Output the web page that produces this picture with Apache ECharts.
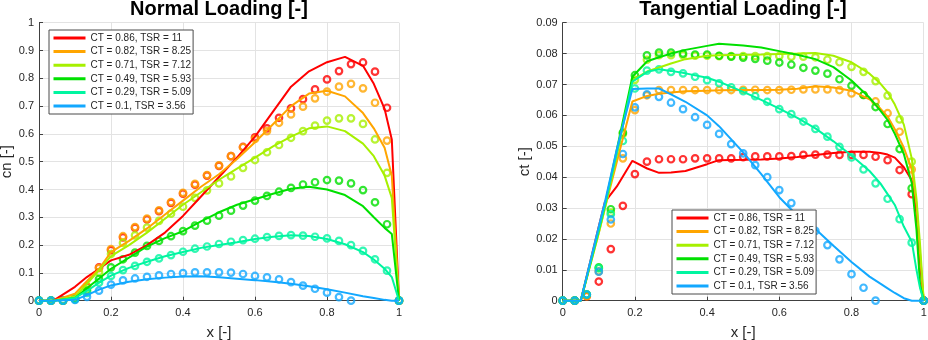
<!DOCTYPE html>
<html><head><meta charset="utf-8">
<script src="https://cdn.jsdelivr.net/npm/echarts@6/dist/echarts.min.js"></script>
<style>html,body{margin:0;padding:0;background:#fff}#c{width:928px;height:340px}</style>
</head><body><div id="c"></div>
<script>
// ---------- data ----------
const seriesNames = ['CT = 0.86, TSR = 11','CT = 0.82, TSR = 8.25','CT = 0.71, TSR = 7.12','CT = 0.49, TSR = 5.93','CT = 0.29, TSR = 5.09','CT = 0.1, TSR = 3.56'];
const seriesColors = ['#FF0000','#FFA500','#A6F000','#00E000','#00F5A0','#12A8FF'];

const xTicks = [0, 0.2, 0.4, 0.6, 0.8, 1];
const cnTicks = [0,0.1,0.2,0.3,0.4,0.5,0.6,0.7,0.8,0.9,1];
const ctTicks = [0,0.01,0.02,0.03,0.04,0.05,0.06,0.07,0.08,0.09];

// measured points (circles)
const xPts = [0,0.0333,0.0667,0.1,0.1333,0.1667,0.2,0.2333,0.2667,0.3,0.3333,0.3667,0.4,0.4333,0.4667,0.5,0.5333,0.5667,0.6,0.6333,0.6667,0.7,0.7333,0.7667,0.8,0.8333,0.8667,0.9,0.9333,0.9667,1];

const cnRedPts    = [0,0,0,0.008,0.05,0.12,0.182,0.228,0.262,0.292,0.322,0.352,0.385,0.417,0.45,0.485,0.52,0.553,0.588,0.62,0.658,0.692,0.725,0.76,0.796,0.826,0.851,0.857,0.824,0.694,0];
const cnOrangePts = [0,0,0,0.01,0.052,0.117,0.186,0.232,0.265,0.295,0.325,0.355,0.388,0.42,0.452,0.487,0.52,0.552,0.582,0.61,0.64,0.67,0.698,0.728,0.752,0.77,0.78,0.764,0.712,0.576,0];
const cnLimePts   = [0,0,0,0.01,0.04,0.102,0.168,0.208,0.235,0.263,0.287,0.313,0.338,0.37,0.397,0.422,0.447,0.478,0.506,0.534,0.56,0.586,0.61,0.63,0.648,0.656,0.656,0.636,0.58,0.46,0];
const cnGreenPts  = [0,0,0,0.006,0.035,0.078,0.12,0.149,0.173,0.197,0.215,0.232,0.25,0.27,0.288,0.306,0.324,0.342,0.36,0.377,0.392,0.406,0.418,0.426,0.434,0.432,0.422,0.398,0.354,0.275,0];
const cnCyanPts   = [0,0,0,0.005,0.028,0.065,0.089,0.11,0.125,0.14,0.152,0.164,0.176,0.187,0.195,0.204,0.212,0.218,0.223,0.229,0.233,0.236,0.234,0.23,0.224,0.215,0.2,0.179,0.149,0.108,0];
const cnBluePts   = [0,0,0,0.003,0.014,0.036,0.058,0.073,0.08,0.086,0.091,0.096,0.099,0.102,0.102,0.102,0.101,0.096,0.089,0.084,0.077,0.067,0.054,0.043,0.029,0.013,0,null,null,null,0];

const ctRedPts    = [0,0,0.0015,0.0062,0.0167,0.0307,0.041,0.045,0.0458,0.0458,0.0458,0.0461,0.0461,0.0461,0.0461,0.0465,0.0467,0.0467,0.0467,0.0468,0.0472,0.0473,0.0473,0.0472,0.0472,0.0472,0.0466,0.0455,0.0423,0.0345,0];
const ctOrangePts = [0,0,0.0015,0.0095,0.025,0.0461,0.0617,0.0665,0.0682,0.0682,0.0682,0.0682,0.0682,0.0682,0.0682,0.0683,0.0683,0.0682,0.0682,0.0683,0.0684,0.0684,0.0684,0.0682,0.0671,0.0666,0.0645,0.0607,0.0547,0.0425,0];
const ctLimePts   = [0,0,0.002,0.0105,0.0285,0.054,0.0715,0.078,0.0795,0.0795,0.0795,0.0793,0.0793,0.0792,0.0792,0.0792,0.0792,0.0792,0.0792,0.079,0.079,0.0788,0.078,0.0772,0.0757,0.0741,0.0711,0.0664,0.0587,0.045,0];
const ctGreenPts  = [0,0,0.002,0.0108,0.0296,0.0544,0.073,0.0794,0.0803,0.0803,0.08,0.0797,0.0797,0.0793,0.079,0.0787,0.0783,0.0777,0.0771,0.0764,0.0754,0.0745,0.0735,0.0717,0.0696,0.0666,0.0627,0.0572,0.0491,0.0364,0];
const ctCyanPts   = [0,0,0.002,0.0105,0.028,0.0517,0.0687,0.0745,0.0749,0.0741,0.0736,0.0725,0.0714,0.0704,0.0691,0.0678,0.0662,0.0644,0.062,0.0604,0.058,0.0556,0.0531,0.0498,0.0464,0.0425,0.038,0.033,0.0264,0.0188,0];
const ctBluePts   = [0,0,0.002,0.0094,0.0263,0.0475,0.0626,0.0668,0.066,0.0641,0.062,0.0594,0.0569,0.054,0.0507,0.0477,0.0439,0.04,0.0358,0.0316,0.0272,0.0226,0.018,0.0134,0.0086,0.0042,0,null,null,null,0];

// simulated curves (lines)
const cnLineX = [0,0.04,0.1,0.133,0.167,0.2,0.25,0.3,0.35,0.4,0.45,0.5,0.55,0.6,0.65,0.7,0.75,0.8,0.85,0.9,0.93,0.96,0.98,1];
const cnRedLine    = [0,0,0.05,0.085,0.115,0.145,0.165,0.2,0.245,0.305,0.375,0.445,0.515,0.59,0.68,0.77,0.825,0.858,0.877,0.845,0.78,0.69,0.58,0];
const cnOrangeLine = [0,0,0.025,0.07,0.115,0.175,0.215,0.26,0.31,0.36,0.41,0.455,0.51,0.57,0.635,0.7,0.745,0.755,0.735,0.675,0.62,0.55,0.45,0];
const cnLimeLine   = [0,0,0.015,0.06,0.11,0.16,0.2,0.245,0.295,0.345,0.39,0.435,0.475,0.515,0.555,0.59,0.62,0.627,0.61,0.565,0.52,0.45,0.37,0];
const cnGreenLine  = [0,0,0.01,0.045,0.08,0.115,0.155,0.195,0.225,0.25,0.285,0.318,0.345,0.365,0.385,0.403,0.41,0.4,0.38,0.34,0.3,0.262,0.24,0];
const cnCyanLine   = [0,0,0.01,0.035,0.065,0.09,0.118,0.14,0.16,0.175,0.19,0.2,0.21,0.222,0.23,0.235,0.233,0.222,0.203,0.175,0.148,0.115,0.085,0];
const cnBlueLine   = [0,0,0.003,0.02,0.04,0.055,0.068,0.077,0.083,0.087,0.088,0.084,0.079,0.074,0.068,0.061,0.052,0.041,0.029,0.016,0.01,0.003,0,0];

const ctLineX = [0,0.05,0.1,0.117,0.15,0.193,0.234,0.267,0.3,0.34,0.4,0.433,0.5,0.55,0.6,0.65,0.7,0.75,0.8,0.85,0.88,0.9,0.92,0.945,0.967,0.98,0.99,1];
const ctRedLine    = [0,0,0.024,0.032,0.037,0.0453,0.0428,0.0414,0.0415,0.042,0.0442,0.0455,0.0456,0.0457,0.046,0.0465,0.0472,0.0478,0.0482,0.0482,0.0478,0.0473,0.0463,0.0432,0.039,0.028,0.012,0];
const ctOrangeLine = [0,0,0.022,0.03,0.045,0.0645,0.0663,0.067,0.0674,0.0678,0.068,0.0681,0.0682,0.0682,0.0683,0.0686,0.0694,0.069,0.068,0.0652,0.0622,0.0596,0.0555,0.0495,0.0425,0.0314,0.015,0];
const ctLimeLine   = [0,0,0.022,0.03,0.047,0.0714,0.0742,0.0755,0.0768,0.0782,0.0793,0.0795,0.0796,0.0797,0.0799,0.08,0.0802,0.0793,0.0772,0.0735,0.0703,0.0675,0.0635,0.057,0.046,0.033,0.018,0];
const ctGreenLine  = [0,0,0.023,0.031,0.049,0.0725,0.0775,0.0788,0.08,0.0812,0.0825,0.0832,0.0826,0.082,0.0808,0.0796,0.0782,0.0756,0.0713,0.0657,0.0615,0.0585,0.054,0.0475,0.038,0.023,0.005,0];
const ctCyanLine   = [0,0,0.023,0.031,0.048,0.0709,0.0741,0.0749,0.0744,0.0736,0.0722,0.0709,0.0676,0.065,0.0622,0.0592,0.0558,0.0516,0.047,0.042,0.038,0.0345,0.031,0.024,0.0191,0.01,0.004,0];
const ctBlueLine   = [0,0,0.024,0.032,0.049,0.0685,0.0687,0.0687,0.0668,0.0644,0.06,0.0565,0.048,0.041,0.0335,0.0275,0.0232,0.0178,0.0125,0.0078,0.0055,0.004,0.0025,0.0008,0,0,0,0];

// ---------- build ----------
const FONT = '"Liberation Sans", Arial, Helvetica, sans-serif';
const AX = '#404040', TXT = '#262626', GRIDC = '#E3E3E3';

const cnPts = [cnRedPts, cnOrangePts, cnLimePts, cnGreenPts, cnCyanPts, cnBluePts];
const ctPts = [ctRedPts, ctOrangePts, ctLimePts, ctGreenPts, ctCyanPts, ctBluePts];
const cnLines = [cnRedLine, cnOrangeLine, cnLimeLine, cnGreenLine, cnCyanLine, cnBlueLine];
const ctLines = [ctRedLine, ctOrangeLine, ctLimeLine, ctGreenLine, ctCyanLine, ctBlueLine];

function pairs(xs, ys) {
  const out = [];
  for (let i = 0; i < xs.length; i++) if (ys[i] !== null) out.push([xs[i], ys[i]]);
  return out;
}

function xAxisDef(gi) {
  return {
    type: 'value', gridIndex: gi, min: xTicks[0], max: xTicks[xTicks.length - 1], interval: xTicks[1] - xTicks[0],
    name: 'x [-]', nameLocation: 'middle', nameGap: 25,
    nameTextStyle: { fontSize: 15, color: TXT, fontFamily: FONT },
    axisLine: { show: true, onZero: false, lineStyle: { color: AX, width: 1 } },
    axisTick: { show: true, inside: true, length: 4, lineStyle: { color: AX } },
    axisLabel: { fontSize: 11, color: TXT, margin: 7, fontFamily: FONT },
    splitLine: { show: true, lineStyle: { color: GRIDC, width: 1 } }
  };
}
function yAxisDef(gi, ticks, name, gap) {
  return {
    type: 'value', gridIndex: gi, min: ticks[0], max: ticks[ticks.length - 1], interval: ticks[1] - ticks[0],
    name: name, nameLocation: 'middle', nameGap: gap, nameRotate: 90,
    nameTextStyle: { fontSize: 15, color: TXT, fontFamily: FONT },
    axisLine: { show: true, onZero: false, lineStyle: { color: AX, width: 1 } },
    axisTick: { show: true, inside: true, length: 4, lineStyle: { color: AX } },
    axisLabel: { fontSize: 11, color: TXT, margin: 5, fontFamily: FONT },
    splitLine: { show: true, lineStyle: { color: GRIDC, width: 1 } }
  };
}
function legendDef(left, top) {
  return {
    data: seriesNames, orient: 'vertical', left: left, top: top,
    itemWidth: 32, itemHeight: 11, itemGap: 3.6,
    padding: [3, 2, 3, 3],
    backgroundColor: '#fff', borderColor: '#4a4a4a', borderWidth: 1,
    lineStyle: { width: 3 },
    itemStyle: { opacity: 0 },
    textStyle: { fontSize: 10, color: TXT, fontFamily: FONT },
    selectedMode: false
  };
}

const series = [];
[[cnLineX, cnLines, cnPts], [ctLineX, ctLines, ctPts]].forEach(([lx, lines, pts], gi) => {
  for (let i = 0; i < seriesNames.length; i++) {
    series.push({
      type: 'line', name: seriesNames[i], xAxisIndex: gi, yAxisIndex: gi,
      data: pairs(lx, lines[i]), symbol: 'none', clip: false,
      lineStyle: { color: seriesColors[i], width: 2 }, itemStyle: { color: seriesColors[i] },
      emphasis: { disabled: true }
    });
    series.push({
      type: 'scatter', name: seriesNames[i] + ' (meas)', xAxisIndex: gi, yAxisIndex: gi,
      data: pairs(xPts, pts[i]), symbol: 'circle', symbolSize: 6.5, clip: false,
      itemStyle: { color: 'rgba(0,0,0,0)', borderColor: seriesColors[i], borderWidth: 2.2 },
      emphasis: { disabled: true }
    });
  }
});

const option = {
  animation: false,
  backgroundColor: '#fff',
  textStyle: { fontFamily: FONT },
  title: [
    { text: 'Normal Loading [-]', left: 219, top: -1, textAlign: 'center', padding: 0,
      textStyle: { fontSize: 20, fontWeight: 'bold', color: '#000', fontFamily: FONT } },
    { text: 'Tangential Loading [-]', left: 743, top: -1, textAlign: 'center', padding: 0,
      textStyle: { fontSize: 20, fontWeight: 'bold', color: '#000', fontFamily: FONT } }
  ],
  grid: [
    { left: 39, top: 22.7, width: 360, height: 278, containLabel: false, outerBoundsMode: 'none' },
    { left: 562.7, top: 22.7, width: 361, height: 278, containLabel: false, outerBoundsMode: 'none' }
  ],
  xAxis: [xAxisDef(0), xAxisDef(1)],
  yAxis: [yAxisDef(0, cnTicks, 'cn [-]', 22), yAxisDef(1, ctTicks, 'ct [-]', 27)],
  legend: [legendDef(49, 30), legendDef(672, 210)],
  series: series
};

const chart = echarts.init(document.getElementById('c'));
chart.setOption(option);
</script>
</body></html>
